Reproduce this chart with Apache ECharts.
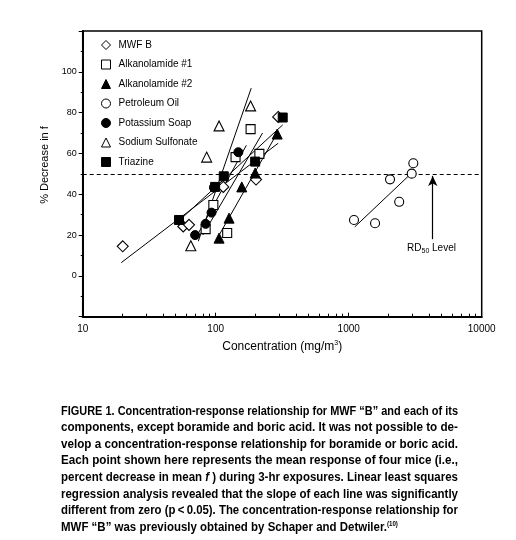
<!DOCTYPE html>
<html><head><meta charset="utf-8">
<script src="https://cdn.jsdelivr.net/npm/echarts@6/dist/echarts.min.js"></script>
<style>html,body{margin:0;padding:0;background:#fff}#c{width:516px;height:540px}</style>
</head><body><div id="c"></div>
<script>
// ---- data ----
const seriesNames = ['MWF B','Alkanolamide #1','Alkanolamide #2','Petroleum Oil','Potassium Soap','Sodium Sulfonate','Triazine'];
const xTicks = [10, 100, 1000, 10000];
const yTicks = [0, 20, 40, 60, 80, 100];

const mwfB_x = [20, 57, 63, 114, 201, 295];
const mwfB_y = [14.5, 24.2, 25, 43.6, 47.2, 77.9];
const alk1_x = [84, 96, 122, 141, 183, 213];
const alk1_y = [22.9, 34.7, 21, 58.2, 71.9, 59.8];
const alk2_x = [106, 126, 157, 198, 290];
const alk2_y = [18.5, 28.3, 43.6, 50.4, 69.5];
const pet_x = [1096, 1578, 2045, 2397, 2977, 3061];
const pet_y = [27.4, 25.8, 47.3, 36.3, 50.1, 55.2];
const soap_x = [70, 84, 93, 97, 148];
const soap_y = [20, 25.5, 31, 43.3, 60.6];
const sulf_x = [65, 85.5, 106, 183];
const sulf_y = [14.8, 58.2, 73.5, 83.3];
const tri_x = [53, 99, 115, 198, 319];
const tri_y = [27.4, 43.6, 48.8, 56, 77.6];

// regression line end points
const mwfBFit_x = [19.5, 295];  const mwfBFit_y = [6.5, 65];
const alk1Fit_x = [80, 225];    const alk1Fit_y = [20, 70];
const alk2Fit_x = [104, 296];   const alk2Fit_y = [19, 71];
const petFit_x = [1110, 2930];  const petFit_y = [24, 50];
const soapFit_x = [70, 170];    const soapFit_y = [18, 64];
const sulfFit_x = [74, 185];    const sulfFit_y = [17, 92];
const triFit_x = [53, 319];     const triFit_y = [27, 74];

const rd50 = 50;
const arrow_x = [4285, 4285]; const arrow_y = [18, 49];
const rdLabel_x = 4194; const rdLabel_y = 13.5;

const caption = [
  'FIGURE 1. Concentration-response relationship for MWF \u201cB\u201d and each of its',
  'components, except boramide and boric acid. It was not possible to de-',
  'velop a concentration-response relationship for boramide or boric acid.',
  'Each point shown here represents the mean response of four mice (i.e.,',
  'percent decrease in mean {i|f} ) during 3-hr exposures. Linear least squares',
  'regression analysis revealed that the slope of each line was significantly',
  'different from zero (p\u2009<\u20090.05). The concentration-response relationship for',
  'MWF \u201cB\u201d was previously obtained by Schaper and Detwiler.{sup|(10)}'
];

// ---- build ----
const pairs = (xs, ys) => xs.map((x, i) => [x, ys[i]]);
const OPEN = {color:'#fff', borderColor:'#000', borderWidth:1.1, opacity:1};
const FILL = {color:'#000', borderColor:'#000', borderWidth:1, opacity:1};
const pts = [
  [mwfB_x, mwfB_y, 'diamond', 11, OPEN],
  [alk1_x, alk1_y, 'rect', 9, OPEN],
  [alk2_x, alk2_y, 'triangle', 10, FILL],
  [pet_x, pet_y, 'circle', 9, OPEN],
  [soap_x, soap_y, 'circle', 9, FILL],
  [sulf_x, sulf_y, 'triangle', 10, OPEN],
  [tri_x, tri_y, 'rect', 9, FILL]
];
const fits = [
  [mwfBFit_x, mwfBFit_y],[alk1Fit_x, alk1Fit_y],[alk2Fit_x, alk2Fit_y],
  [petFit_x, petFit_y],[soapFit_x, soapFit_y],[sulfFit_x, sulfFit_y],[triFit_x, triFit_y]
];
const series = [];
fits.forEach((f, i) => {
  const s = {
    name: seriesNames[i] + ' fit', type: 'line', data: pairs(f[0], f[1]),
    symbol: 'none', lineStyle: {color:'#000', width:1}, silent: true, z: 2
  };
  if (i === 3) {
    s.markLine = {
      silent: true, symbol: ['none','none'], label: {show:false},
      lineStyle: {color:'#000', width:1, type:[4,3]},
      data: [
        {yAxis: rd50},
        [{coord:[arrow_x[0], arrow_y[0]], symbol:'none'},
         {coord:[arrow_x[1], arrow_y[1]], symbol:'arrow', symbolSize:[7,10], lineStyle:{type:'solid', width:1.2}}]
      ]
    };
    s.markPoint = {
      silent: true, symbol: 'rect', symbolSize: 0,
      data: [{coord:[rdLabel_x, rdLabel_y],
        label: {show:true, position:'inside', formatter:'{a|RD}{s|50}{a| Level}',
          rich: {a:{fontFamily:'Liberation Sans', fontSize:10, color:'#000'},
                 s:{fontFamily:'Liberation Sans', fontSize:7, color:'#000', padding:[6,0,0,0]}}}}]
    };
  }
  series.push(s);
});
pts.forEach((p, i) => {
  series.push({
    name: seriesNames[i], type: 'scatter', data: pairs(p[0], p[1]),
    symbol: p[2], symbolSize: p[3], itemStyle: p[4], z: 5
  });
});

const graphics = [{
  type: 'text', x: 45, y: 165, rotation: Math.PI/2,
  style: {text: '% Decrease in f', font: '11px "Liberation Sans"', fill: '#000', align: 'center', verticalAlign: 'middle'}
}];

// caption: justified by scaling each line to the column width
const CAP_FONT = 'bold 13px "Liberation Sans"';
const CAP_LEFT = 61, CAP_WIDTH = 397;
const mctx = document.createElement('canvas').getContext('2d');
mctx.font = CAP_FONT;
const plain = t => t.replace(/\{i\|([^}]*)\}/g, '$1').replace(/\{sup\|([^}]*)\}/g, '');
let scales = caption.map(t => CAP_WIDTH / mctx.measureText(plain(t)).width);
const avgScale = scales.slice(0, 7).reduce((a, b) => a + b, 0) / 7;
caption.forEach((line, i) => {
  graphics.push({
    type: 'text', x: CAP_LEFT, y: 411 + i*16.6,
    scaleX: i < 7 ? scales[i] : avgScale, scaleY: 1,
    style: {
      text: line, fill:'#000', verticalAlign:'middle', font: CAP_FONT,
      rich: {
        i: {fontStyle:'italic', fontWeight:'bold', fontSize:13, fontFamily:'Liberation Sans'},
        sup: {fontWeight:'bold', fontSize:7, fontFamily:'Liberation Sans', padding:[0,0,7,0]}
      }
    }
  });
});

const chart = echarts.init(document.getElementById('c'), null, {renderer:'canvas'});
chart.setOption({
  animation: false,
  backgroundColor: '#fff',
  grid: {left: 82.7, right: 34.3, top: 31, bottom: 223.3, show: false},
  legend: {
    data: seriesNames, orient: 'vertical', left: 96, top: 35,
    itemWidth: 9, itemHeight: 9, itemGap: 9.5, selectedMode: false,
    itemStyle: {borderWidth: 1},
    textStyle: {fontFamily:'Liberation Sans', fontSize: 10, color:'#000', padding:[0,0,0,3]}
  },
  xAxis: {
    type: 'log', logBase: 10, min: xTicks[0], max: xTicks[xTicks.length-1],
    name: 'Concentration (mg/m{s|3})', nameLocation: 'middle', nameGap: 22,
    nameTextStyle: {fontFamily:'Liberation Sans', fontSize: 12, color:'#000',
      rich: {s:{fontFamily:'Liberation Sans', fontSize:7, color:'#000', padding:[0,0,7,0]}}},
    axisLine: {show:true, onZero:false, lineStyle:{color:'#000', width:2}},
    axisTick: {show:true, inside:true, length:4, lineStyle:{color:'#000'}},
    minorTick: {show:true, splitNumber:9, length:3, lineStyle:{color:'#000'}},
    axisLabel: {fontFamily:'Liberation Sans', fontSize: 10, color:'#000', margin: 8,
      formatter: v => String(Math.round(v))},
    splitLine: {show:false}
  },
  yAxis: {
    type: 'value', min: -20, max: 120, interval: 20,
    axisLine: {show:true, onZero:false, lineStyle:{color:'#000', width:2}},
    axisTick: {show:true, inside:false, length:4, lineStyle:{color:'#000'}},
    minorTick: {show:true, splitNumber:2, length:2, lineStyle:{color:'#000'}},
    axisLabel: {fontFamily:'Liberation Sans', fontSize: 9, color:'#000', margin: 6,
      formatter: v => (yTicks.indexOf(v) >= 0 ? String(v) : '')},
    splitLine: {show:false}
  },
  graphic: graphics.concat([{
    type:'rect', shape:{x:82.7, y:31, width:399, height:286}, silent:true,
    style:{fill:'none', stroke:'#000', lineWidth:1.5}, z:-1
  }]),
  series: series
});
</script></body></html>
